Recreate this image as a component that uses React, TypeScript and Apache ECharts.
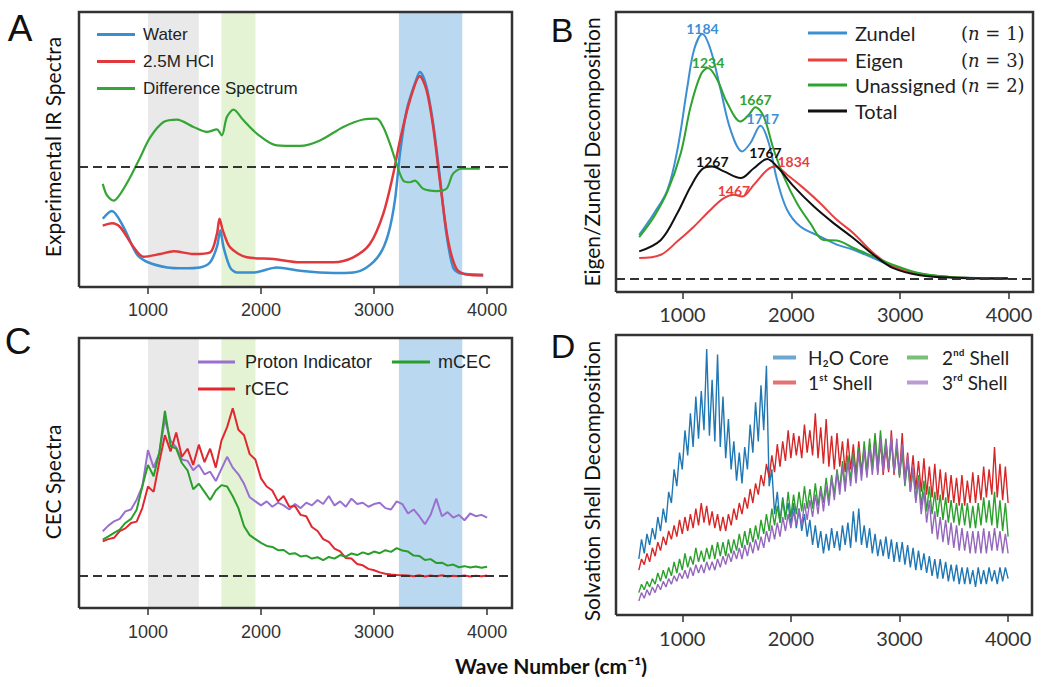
import React, { useEffect, useRef } from "react";
import * as echarts from "echarts";

// ---------- shared ----------
const TICKS = [1000, 2000, 3000, 4000];
const X_MIN = 390;
const X_MAX = 4220;

// ---------- Panel A: experimental IR spectra ([wavenumber, intensity]) ----------
const A_WATER = [[600,-18.8],[680,-16],[785,-21.9],[900,-31.6],[1000,-34.6],[1170,-36.5],[1315,-36.8],[1460,-36.5],[1550,-34.6],[1610,-29],[1640,-23],[1668,-29],[1727,-36.5],[1786,-38.3],[1933,-38.3],[2140,-36.5],[2345,-37.7],[2640,-38.5],[2816,-38.3],[2934,-36.5],[3052,-31.6],[3126,-24.3],[3184,-12.2],[3229,4.9],[3288,20.7],[3361,30.4],[3405,34.6],[3464,29.2],[3523,15.8],[3582,-3.6],[3640,-24.3],[3699,-36.5],[3758,-38.6],[3965,-39.1]];
const A_HCL = [[600,-21.3],[682,-20.4],[756,-21.9],[874,-29.2],[962,-32.6],[1109,-31.6],[1227,-30.6],[1403,-31.6],[1550,-31],[1610,-24.3],[1633,-18.8],[1662,-23],[1727,-29.2],[1874,-32.8],[2110,-33.4],[2345,-34.6],[2640,-34.6],[2816,-32.8],[2964,-27.9],[3081,-17],[3170,-2.4],[3229,9.7],[3317,24.3],[3405,33],[3464,28],[3523,14.6],[3582,-4.9],[3655,-26.7],[3729,-37],[3817,-39.1],[3965,-39.4]];
const A_DIFF = [[600,-6.1],[638,-10.3],[697,-12.2],[756,-9.7],[844,-3.6],[932,3.6],[1021,10.9],[1138,16.4],[1256,17.3],[1403,14.6],[1521,12.8],[1609,13.7],[1653,11.5],[1698,18.2],[1757,20.9],[1845,17],[1963,12.2],[2140,7.9],[2345,7.7],[2522,9.7],[2728,14.6],[2905,17.3],[3023,17.6],[3081,14.6],[3140,8.5],[3199,1.2],[3258,-4.9],[3320,-5.5],[3361,-4.9],[3435,-7.9],[3553,-8.7],[3640,-7.9],[3699,-2.4],[3773,-0.6],[3935,-0.6]];

// shaded bands (wavenumber ranges)
const BANDS = [
  { from: 1000, to: 1450, color: "rgba(215,215,215,0.55)" },
  { from: 1650, to: 1950, color: "rgba(200,232,170,0.5)" },
  { from: 3220, to: 3780, color: "rgba(140,192,230,0.6)" },
];

// ---------- Panel B: Eigen/Zundel decomposition ----------
const B_ZUNDEL = [[603,15.8],[741,23.6],[863,31.9],[954,46.2],[1046,68.8],[1107,81.9],[1183,87.5],[1259,81.9],[1351,67.6],[1442,53.3],[1549,45.6],[1625,48.6],[1717,54.8],[1793,48.6],[1869,35.5],[1961,24.8],[2083,18.8],[2266,15.2],[2418,12.3],[2571,10.5],[2754,7.5],[2937,4.5],[3181,1.9],[3486,0.7],[3989,0.4]];
const B_EIGEN = [[603,7.5],[802,8.7],[954,13.5],[1107,18.8],[1259,24.8],[1381,28.9],[1473,30.1],[1549,29.5],[1656,33.7],[1778,39],[1854,40.2],[1961,37.3],[2113,32.5],[2266,27.1],[2418,21.2],[2571,16.4],[2754,9.3],[2937,4.5],[3181,1.9],[3486,0.7],[3989,0.2]];
const B_UNASSIGNED = [[603,15],[741,22.4],[863,31.3],[985,45],[1076,61.7],[1168,73],[1234,75.4],[1320,71.2],[1412,62.9],[1534,56.3],[1610,58.7],[1671,61.4],[1747,58],[1839,46.2],[1930,36.7],[2052,27.1],[2174,20],[2296,14],[2418,13.8],[2571,11.1],[2754,8.1],[2937,5.1],[3181,2.1],[3486,0.7],[3989,0.2]];
const B_TOTAL = [[603,9.9],[802,14],[954,23.6],[1076,33.1],[1183,39.3],[1275,40.2],[1381,38.5],[1534,36.1],[1656,39.6],[1778,42.9],[1869,40.2],[2022,33.1],[2205,26],[2388,20],[2571,14.6],[2754,8.7],[2937,3.9],[3181,1.4],[3486,0.5],[3989,0.2]];
const B_PEAKS_ZUNDEL = [{ label: "1184", x: 1184, y: 89.6 }, { label: "1717", x: 1738, y: 57.5 }];
const B_PEAKS_UNASSIGNED = [{ label: "1234", x: 1235, y: 77.4 }, { label: "1667", x: 1671, y: 64 }];
const B_PEAKS_TOTAL = [{ label: "1267", x: 1275, y: 42 }, { label: "1767", x: 1762, y: 45.3 }];
const B_PEAKS_EIGEN = [{ label: "1467", x: 1473, y: 31.7 }, { label: "1834", x: 2022, y: 42 }];
const B_N: Record<string, number> = { Zundel: 1, Eigen: 3, Unassigned: 2 };

// ---------- Panel C: CEC spectra (wavenumber grid step 50) ----------
const WN_C = [600,650,700,750,800,850,900,950,
  1000,1050,1100,1150,1200,1250,1300,1350,1400,1450,1500,1550,1600,1650,1700,1750,1800,1850,1900,1950,
  2000,2050,2100,2150,2200,2250,2300,2350,2400,2450,2500,2550,2600,2650,2700,2750,2800,2850,2900,2950,
  3000,3050,3100,3150,3200,3250,3300,3350,3400,3450,3500,3550,3600,3650,3700,3750,3800,3850,3900,3950,
  4000];
const C_PROTON = [16.4,18.5,20.1,21.0,23.8,24.5,28.1,33.0,
  46.5,40.0,45.4,58.0,50.0,47.5,43.0,42.5,39.0,41.0,37.5,38.5,35.0,39.5,44.0,40.0,37.5,34.0,29.0,27.5,
  26.0,27.5,25.5,27.0,26.0,24.5,26.5,25.0,27.0,26.0,28.0,26.5,29.5,26.0,27.5,25.5,28.5,26.5,27.0,25.5,
  26.5,27.0,25.0,24.5,27.5,26.5,23.0,24.5,22.0,19.0,22.5,28.5,22.0,23.5,21.5,22.5,20.5,23.0,22.0,22.5,
  21.5];
const C_RCEC = [12.7,13.5,14.0,16.5,17.5,19.5,20.0,25.0,
  33.0,31.0,42.0,52.0,46.0,53.0,44.0,47.0,41.0,48.5,42.0,47.0,40.0,50.0,55.0,62.0,54.0,52.0,45.0,43.0,
  36.0,33.0,31.5,27.5,29.5,25.5,25.8,22.5,22.0,18.0,16.5,13.5,12.5,10.0,9.0,6.5,6.3,4.3,3.8,2.5,
  2.0,1.2,0.7,0.4,0.2,0.1,0.0,-0.2,0.1,-0.3,0.0,-0.2,0.1,-0.3,-0.1,-0.2,0.0,-0.3,-0.1,-0.2,
  0.0];
const C_MCEC = [13.3,14.5,15.8,17.0,19.5,21.0,24.4,33.0,
  41.0,36.8,45.4,61.0,48.0,47.0,41.7,39.0,32.0,34.0,31.0,28.0,31.5,33.5,33.0,29.4,25.0,18.3,15.0,13.5,
  12.1,11.0,10.6,9.4,9.5,8.0,8.3,7.1,7.4,6.3,6.8,5.7,6.9,6.3,7.6,7.0,8.2,7.6,8.6,7.9,
  8.9,8.3,9.4,8.8,10.2,9.3,8.9,7.4,7.3,5.8,6.1,4.7,4.8,3.7,4.1,3.1,3.5,3.0,3.4,2.9,
  3.3];

// ---------- Panel D: solvation shell decomposition (wavenumber grid step 25) ----------
const WN_D = [600,625,650,675,700,725,750,775,800,825,850,875,900,925,950,975,
  1000,1025,1050,1075,1100,1125,1150,1175,1200,1225,1250,1275,1300,1325,1350,1375,1400,1425,1450,1475,
  1500,1525,1550,1575,1600,1625,1650,1675,1700,1725,1750,1775,1800,1825,1850,1875,1900,1925,1950,1975,
  2000,2025,2050,2075,2100,2125,2150,2175,2200,2225,2250,2275,2300,2325,2350,2375,2400,2425,2450,2475,
  2500,2525,2550,2575,2600,2625,2650,2675,2700,2725,2750,2775,2800,2825,2850,2875,2900,2925,2950,2975,
  3000,3025,3050,3075,3100,3125,3150,3175,3200,3225,3250,3275,3300,3325,3350,3375,3400,3425,3450,3475,
  3500,3525,3550,3575,3600,3625,3650,3675,3700,3725,3750,3775,3800,3825,3850,3875,3900,3925,3950,3975,
  4000];
const D_CORE = [20,27,22,29,25,31,27,35,30,38,33,44,40,52,46,58,
  52,66,57,72,60,78,63,80,66,95,64,84,62,93,60,78,56,70,52,62,
  48,58,47,60,52,68,58,76,62,82,66,89,46,52,36,44,33,42,35,40,
  32,40,31,38,30,36,28,34,25,32,24,30,22,29,23,31,24,30,23,32,
  25,33,24,37,26,38,25,32,24,31,22,29,21,27,21,28,20,27,19,26,
  19,26,18,25,17,24,16,23,16,22,15,21,14,20,13,20,13,19,12,18,
  12,18,11,17,11,17,11,16,10,17,11,16,11,17,12,16,11,17,12,17,
  13];
const D_SHELL1 = [16,20,18,22,19,24,21,26,23,28,25,30,27,32,28,34,
  29,35,30,36,31,38,32,40,33,39,32,37,31,36,30,35,30,36,32,38,
  34,40,36,42,38,45,40,47,43,50,46,54,49,57,51,61,53,62,55,66,
  56,65,57,64,56,68,58,66,57,72,56,67,54,70,53,64,52,65,53,62,
  51,63,52,61,50,62,51,60,50,61,52,64,51,62,50,60,51,66,50,61,
  50,65,48,58,47,57,45,55,44,56,43,53,42,54,41,52,41,51,40,50,
  40,49,39,50,39,48,40,51,40,50,41,53,42,52,43,60,42,54,41,53,
  40];
const D_SHELL2 = [8,11,9,12,10,13,11,15,12,16,13,17,14,19,15,20,
  16,22,17,21,18,24,19,23,19,24,20,25,20,26,21,26,21,27,22,27,
  23,29,24,30,25,31,26,32,27,34,29,36,30,38,32,39,33,41,34,44,
  35,43,36,44,37,46,38,45,38,47,39,46,40,49,41,50,43,52,45,55,
  46,57,48,58,49,60,50,62,51,63,52,65,53,66,54,63,52,62,51,60,
  49,58,46,55,44,52,41,50,39,48,37,46,36,44,35,43,34,42,33,41,
  33,40,32,40,32,40,31,39,31,40,32,42,33,41,32,44,31,41,30,40,
  28];
const D_SHELL3 = [5,8,6,9,7,10,8,11,9,12,10,13,11,14,12,15,
  13,16,13,17,14,18,15,18,15,19,16,19,16,20,17,21,18,22,19,23,
  20,24,20,25,21,26,22,27,23,28,24,30,26,32,27,33,28,35,30,36,
  31,37,32,38,32,40,34,41,35,43,36,45,37,46,39,49,41,51,43,53,
  44,55,46,56,47,58,48,59,49,60,50,61,50,63,51,62,52,64,51,63,
  50,61,47,57,44,53,40,48,36,44,33,41,29,37,27,35,26,34,25,33,
  24,32,23,31,23,30,22,30,22,30,22,31,22,30,23,31,23,30,22,29,
  22];

const SANS = "Liberation Sans";
const CAL = "Lato";
const Y_RANGES = [[-43.6, 56.4], [-4.6, 95.4], [-12, 88], [0, 100]];

const zip = (xs: number[], ys: number[]) => xs.map((x, i) => [x, ys[i]]);

function xAxis(gridIndex: number, margin: number, font: string, size: number) {
  return {
    type: "value", gridIndex, min: X_MIN, max: X_MAX,
    axisLine: { show: false, onZero: false },
    splitLine: { show: false },
    axisTick: { show: true, customValues: TICKS, length: 7, lineStyle: { color: "#333", width: 1.5 } },
    axisLabel: {
      show: true, customValues: TICKS, margin, fontFamily: font, fontSize: size, color: "#333",
      formatter: (v: number) => String(v),
    },
  };
}
function yAxis(gridIndex: number) {
  return { type: "value", gridIndex, min: Y_RANGES[gridIndex][0], max: Y_RANGES[gridIndex][1], show: false };
}
function line(name: string, idx: number, data: any[], color: string, width: number, extra: any = {}) {
  return {
    type: "line", name, xAxisIndex: idx, yAxisIndex: idx, data, color,
    showSymbol: false, symbol: "none", silent: true, z: 3,
    lineStyle: { color, width }, emphasis: { disabled: true }, ...extra,
  };
}
function shading(idx: number) {
  return {
    type: "line", xAxisIndex: idx, yAxisIndex: idx, data: [[600, 0]], symbol: "none", silent: true, z: 1,
    lineStyle: { opacity: 0 },
    markArea: {
      silent: true,
      data: BANDS.map((b) => [{ xAxis: b.from, itemStyle: { color: b.color } }, { xAxis: b.to }]),
    },
  };
}
function baseline(idx: number) {
  return {
    type: "line", xAxisIndex: idx, yAxisIndex: idx, data: [[600, 0]], symbol: "none", silent: true, z: 2,
    lineStyle: { opacity: 0 },
    markLine: {
      silent: true, symbol: "none", label: { show: false },
      lineStyle: { color: "#333", width: 2, type: [9, 5] },
      data: [{ yAxis: 0 }],
    },
  };
}
// panel frame: a closed line along the axis extents, not clipped
function frame(idx: number) {
  const [y0, y1] = Y_RANGES[idx];
  return {
    type: "line", xAxisIndex: idx, yAxisIndex: idx, symbol: "none", showSymbol: false,
    silent: true, z: 10, clip: false,
    data: [[X_MIN, y0], [X_MAX, y0], [X_MAX, y1], [X_MIN, y1], [X_MIN, y0]],
    lineStyle: { color: "#333", width: 2.5, join: "miter" },
    emphasis: { disabled: true },
  };
}
function peaks(list: { label: string; x: number; y: number }[], color: string) {
  return {
    symbol: "circle", symbolSize: 0, silent: true,
    label: { show: true, position: "inside", formatter: "{c}", color, fontFamily: CAL, fontSize: 14, fontWeight: "bold" },
    data: list.map((p) => ({ coord: [p.x, p.y], value: p.label })),
  };
}
function legend(name: string, left: number, top: number, font: string, size: number, w: number, h: number, pad: number, extra: any = {}) {
  return {
    data: [name], left, top, padding: 0, itemGap: 0, icon: "rect", itemWidth: w, itemHeight: h,
    selectedMode: false,
    textStyle: { fontFamily: font, fontSize: size, color: "#222", padding: [0, 0, 0, pad] },
    ...extra,
  };
}

export default function App() {
  const ref = useRef<HTMLDivElement>(null);
  useEffect(() => {
    const chart = echarts.init(ref.current!, undefined, { renderer: "svg" });
    const bLegendExtra = {
      formatter: (n: string) => (B_N[n] ? `{a|${n}}{b|(}{c|n}{b| = ${B_N[n]})}` : `{a|${n}}`),
      textStyle: {
        color: "#222", padding: [0, 0, 0, 3],
        rich: {
          a: { width: 106, fontFamily: CAL, fontSize: 20, color: "#222" },
          b: { fontFamily: "DejaVu Serif", fontSize: 18, color: "#222" },
          c: { fontFamily: "DejaVu Serif", fontStyle: "italic", fontSize: 18, color: "#222" },
        },
      },
    };
    const dLeg = { itemStyle: { opacity: 0.65 } };
    const txt = (text: string, x: number, y: number, font: string, size: number, rot = 0, weight = "normal") => ({
      type: "text", x, y, rotation: rot, z: 100, silent: true,
      style: { text, fontFamily: font, fontSize: size, fontWeight: weight, fill: "#111", align: "center", verticalAlign: "middle" },
    });
    const R = Math.PI / 2;
    chart.setOption({
      animation: false,
      backgroundColor: "#fff",
      grid: [
        { left: 79, top: 12, width: 433, height: 275 },
        { left: 616, top: 12, width: 417, height: 280 },
        { left: 79, top: 338, width: 433, height: 270 },
        { left: 616, top: 335, width: 416, height: 280 },
      ],
      xAxis: [xAxis(0, 14, SANS, 18), xAxis(1, 12, CAL, 20), xAxis(2, 15, SANS, 18), xAxis(3, 13, CAL, 20)],
      yAxis: [yAxis(0), yAxis(1), yAxis(2), yAxis(3)],
      legend: [
        legend("Water", 97, 26, SANS, 17, 38, 3, 3),
        legend("2.5M HCl", 97, 53, SANS, 17, 38, 3, 3),
        legend("Difference Spectrum", 97, 80, SANS, 17, 38, 3, 3),
        legend("Zundel", 808, 23, CAL, 20, 39, 3, 3, bLegendExtra),
        legend("Eigen", 808, 50, CAL, 20, 39, 3, 3, bLegendExtra),
        legend("Unassigned", 808, 75, CAL, 20, 39, 3, 3, bLegendExtra),
        legend("Total", 808, 101, CAL, 20, 39, 3, 3, bLegendExtra),
        legend("Proton Indicator", 198, 353, SANS, 18, 37, 3, 5),
        legend("rCEC", 198, 380, SANS, 18, 37, 3, 5),
        legend("mCEC", 392, 353, SANS, 18, 38, 3, 3),
        legend("H₂O Core", 773, 348, CAL, 19, 23, 4, 7, dLeg),
        legend("1ˢᵗ Shell", 773, 373, CAL, 19, 23, 4, 7, dLeg),
        legend("2ⁿᵈ Shell", 907, 348, CAL, 19, 21, 4, 9, dLeg),
        legend("3ʳᵈ Shell", 907, 373, CAL, 19, 21, 4, 9, dLeg),
      ],
      series: [
        shading(0), baseline(0), frame(0),
        line("Water", 0, A_WATER, "#3a8fd0", 2.5, { smooth: 0.3 }),
        line("2.5M HCl", 0, A_HCL, "#e0383c", 2.5, { smooth: 0.3 }),
        line("Difference Spectrum", 0, A_DIFF, "#35a635", 2.2, { smooth: 0.3 }),

        baseline(1), frame(1),
        line("Zundel", 1, B_ZUNDEL, "#3c8fd2", 2, { smooth: 0.35, markPoint: peaks(B_PEAKS_ZUNDEL, "#3c8fd2") }),
        line("Eigen", 1, B_EIGEN, "#e8403f", 2, { smooth: 0.35, markPoint: peaks(B_PEAKS_EIGEN, "#e8403f") }),
        line("Unassigned", 1, B_UNASSIGNED, "#2fa32f", 2, { smooth: 0.35, markPoint: peaks(B_PEAKS_UNASSIGNED, "#2fa32f") }),
        line("Total", 1, B_TOTAL, "#111111", 2, { smooth: 0.35, markPoint: peaks(B_PEAKS_TOTAL, "#111111") }),

        shading(2), baseline(2), frame(2),
        line("Proton Indicator", 2, zip(WN_C, C_PROTON), "#9a6fcf", 2),
        line("rCEC", 2, zip(WN_C, C_RCEC), "#e0282e", 2),
        line("mCEC", 2, zip(WN_C, C_MCEC), "#2a9e2a", 2),

        frame(3),
        line("H₂O Core", 3, zip(WN_D, D_CORE), "#1f77b4", 1.4),
        line("1ˢᵗ Shell", 3, zip(WN_D, D_SHELL1), "#d62728", 1.4),
        line("2ⁿᵈ Shell", 3, zip(WN_D, D_SHELL2), "#2ca02c", 1.4),
        line("3ʳᵈ Shell", 3, zip(WN_D, D_SHELL3), "#9467bd", 1.4),
      ],
      graphic: [
        txt("A", 20, 28, SANS, 37),
        txt("B", 562, 30, SANS, 34),
        txt("C", 18, 341, SANS, 37),
        txt("D", 563, 346, SANS, 34),
        txt("Experimental IR Spectra", 52, 147, CAL, 21, R),
        txt("Eigen/Zundel Decomposition", 591, 152, CAL, 21, R),
        txt("CEC Spectra", 52, 482, CAL, 21, R),
        txt("Solvation Shell Decomposition", 591, 481, CAL, 21, R),
        txt("Wave Number (cm⁻¹)", 551, 665, CAL, 21, 0, "bold"),
      ],
    });
    return () => chart.dispose();
  }, []);
  return (
    <div
      ref={ref}
      style={{ position: "absolute", left: 0, top: 0, width: 1050, height: 687, background: "#fff" }}
    />
  );
}
